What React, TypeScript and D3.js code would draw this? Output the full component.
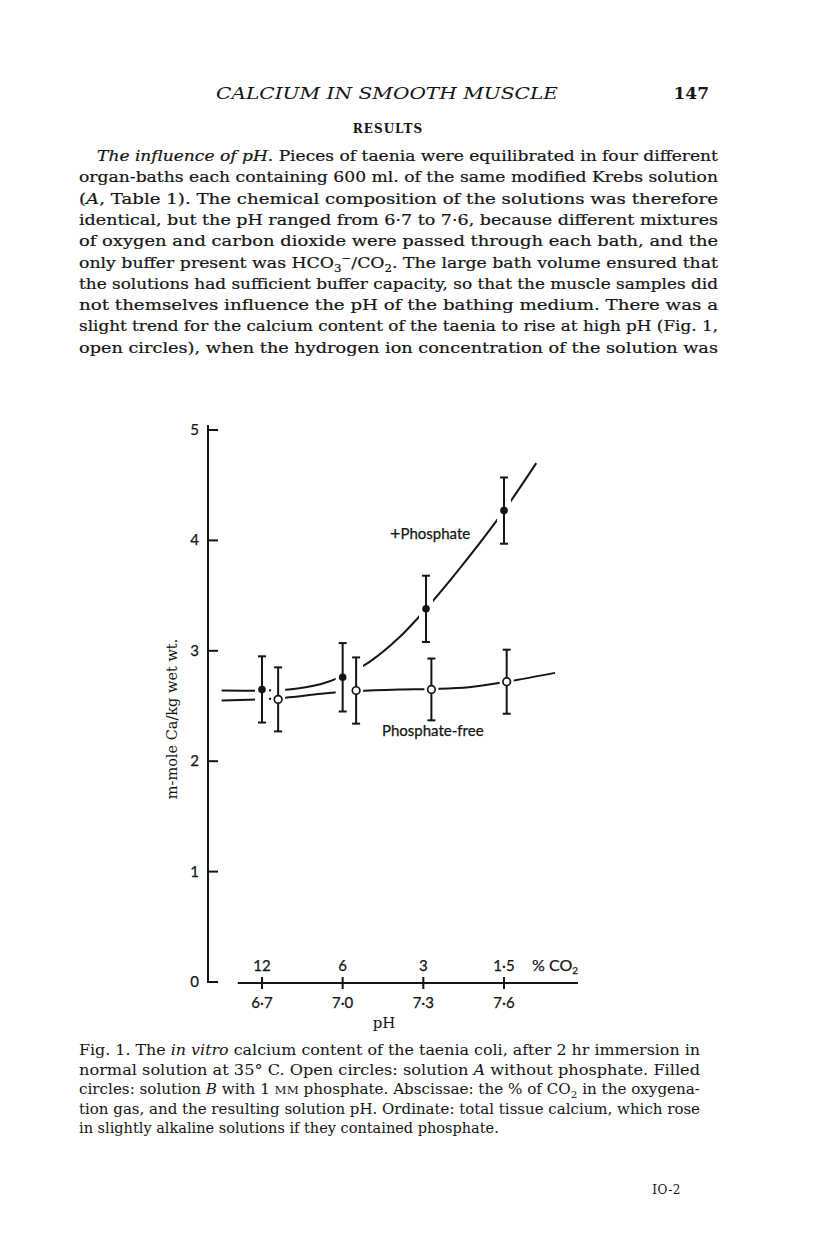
import * as d3 from 'd3';

// pH of the four baths and the % CO2 that produced them
const phTicks = [6.7, 7.0, 7.3, 7.6];
const phLabels = ['6·7', '7·0', '7·3', '7·6'];
const co2Labels = ['12', '6', '3', '1·5'];
const yTicks = [0, 1, 2, 3, 4, 5];

// filled circles: solution B, + phosphate
const phosPh = [6.7, 7.0, 7.31, 7.6];
const phosMean = [2.65, 2.76, 3.38, 4.27];
const phosSem = [0.3, 0.31, 0.3, 0.3];

// open circles: solution A, phosphate-free
const freePh = [6.76, 7.05, 7.33, 7.61];
const freeMean = [2.56, 2.64, 2.65, 2.72];
const freeSem = [0.29, 0.3, 0.28, 0.29];

// hand drawn curves
const phosCurvePh = [6.55, 6.8, 6.92, 7.0, 7.1, 7.21, 7.31, 7.44, 7.6, 7.72];
const phosCurveVal = [2.64, 2.65, 2.7, 2.77, 2.9, 3.12, 3.38, 3.76, 4.27, 4.7];
const freeCurvePh = [6.55, 6.76, 6.92, 7.05, 7.21, 7.33, 7.47, 7.61, 7.79];
const freeCurveVal = [2.55, 2.57, 2.61, 2.635, 2.65, 2.655, 2.67, 2.72, 2.8];

type Part = [string, string?];

const bodyLines: Part[][] = [
  [['The influence of pH', 'i'], ['. Pieces of taenia were equilibrated in four different']],
  [['organ-baths each containing 600 ml. of the same modified Krebs solution']],
  [['('], ['A', 'i'], [', Table 1). The chemical composition of the solutions was therefore']],
  [['identical, but the pH ranged from 6·7 to 7·6, because different mixtures']],
  [['of oxygen and carbon dioxide were passed through each bath, and the']],
  [['only buffer present was HCO'], ['3', 'sub'], ['−', 'sup'], ['/CO'], ['2', 'sub'], ['. The large bath volume ensured that']],
  [['the solutions had sufficient buffer capacity, so that the muscle samples did']],
  [['not themselves influence the pH of the bathing medium. There was a']],
  [['slight trend for the calcium content of the taenia to rise at high pH (Fig. 1,']],
  [['open circles), when the hydrogen ion concentration of the solution was']],
];

const captionLines: Part[][] = [
  [['Fig. 1. The '], ['in vitro', 'i'], [' calcium content of the taenia coli, after 2 hr immersion in']],
  [['normal solution at 35° C. Open circles: solution '], ['A', 'i'], [' without phosphate. Filled']],
  [['circles: solution '], ['B', 'i'], [' with 1 '], ['mm', 'sc'], [' phosphate. Abscissae: the % of CO'], ['2', 'sub'], [' in the oxygena-']],
  [['tion gas, and the resulting solution pH. Ordinate: total tissue calcium, which rose']],
  [['in slightly alkaline solutions if they contained phosphate.']],
];

const serif = '"DejaVu Serif", "Liberation Serif", serif';
const sans = 'Lato, "Open Sans", sans-serif';
const ink = '#141414';

function Parts({ parts, size }: { parts: Part[]; size: number }) {
  let shift = 0;
  return (
    <>
      {parts.map(([t, s], i) => {
        const target = s === 'sub' ? size * 0.28 : s === 'sup' ? -size * 0.38 : 0;
        const dy = target - shift;
        shift = target;
        const small = s === 'sub' || s === 'sup';
        return (
          <tspan
            key={i}
            dy={dy || undefined}
            fontStyle={s === 'i' ? 'italic' : undefined}
            fontSize={small ? size * 0.68 : s === 'sc' ? size * 0.78 : undefined}
            style={s === 'sc' ? { textTransform: 'uppercase' } : undefined}
          >
            {t}
          </tspan>
        );
      })}
    </>
  );
}

export default function App() {
  const x = d3.scaleLinear().domain([6.7, 7.6]).range([262, 504]);
  const y = d3.scaleLinear().domain([0, 5]).range([982, 430]);
  const axisX = 208;

  const line = d3
    .line<[number, number]>()
    .x((d) => x(d[0]))
    .y((d) => y(d[1]))
    .curve(d3.curveCatmullRom.alpha(0.5));

  const phosPath = line(phosCurvePh.map((p, i) => [p, phosCurveVal[i]]));
  const freePath = line(freeCurvePh.map((p, i) => [p, freeCurveVal[i]]));

  const points = [
    ...phosPh.map((p, i) => ({ p, m: phosMean[i], e: phosSem[i], filled: true })),
    ...freePh.map((p, i) => ({ p, m: freeMean[i], e: freeSem[i], filled: false })),
  ];

  const bodyLeft = 79;
  const bodyRight = 718;
  const capLeft = 79;
  const capRight = 700;
  const capSize = 14.5;

  return (
    <svg
      width={816}
      height={1249}
      style={{ position: 'absolute', left: 0, top: 0, background: '#fff' }}
    >
      <rect width={816} height={1249} fill="#fff" />

      {/* running head */}
      <text x={216} y={99} fontFamily={serif} fontStyle="italic" fontSize={17}
        textLength={342} lengthAdjust="spacingAndGlyphs" fill={ink}>
        CALCIUM IN SMOOTH MUSCLE
      </text>
      <text x={709} y={99} fontFamily={serif} fontSize={17} fontWeight="bold"
        textAnchor="end" fill={ink}>
        147
      </text>
      <text x={388} y={133} fontFamily={serif} fontSize={12} fontWeight="bold"
        textAnchor="middle" letterSpacing={1} fill={ink}>
        RESULTS
      </text>

      <g fontFamily={serif} fontSize={15.5} fill={ink} stroke={ink} strokeWidth={0.2}>
        {bodyLines.map((parts, i) => {
          const left = i === 0 ? 97 : bodyLeft;
          return (
            <text key={i} x={left} y={161 + i * 21.3}
              textLength={bodyRight - left} lengthAdjust="spacingAndGlyphs">
              <Parts parts={parts} size={15.5} />
            </text>
          );
        })}
      </g>

      {/* chart */}
      <g fill="none" stroke={ink} strokeWidth={2}>
        <path d={`M${axisX},${y(5) - 5}V${y(0)}H${axisX + 10}`} />
        {yTicks.slice(1).map((t) => (
          <line key={t} x1={axisX} x2={axisX + 10} y1={y(t)} y2={y(t)} />
        ))}
        <line x1={x(6.61)} x2={x(7.875)} y1={y(0) + 1} y2={y(0) + 1} />
        {phTicks.map((t) => (
          <line key={t} x1={x(t)} x2={x(t)} y1={y(0) - 5} y2={y(0) + 7} />
        ))}
        <path d={phosPath ?? ''} />
        <path d={freePath ?? ''} />
      </g>

      {/* breaks in the curves either side of each error bar */}
      {points.map((d, i) => (
        <rect key={i} x={x(d.p) - 7} width={14} y={y(d.m + d.e)}
          height={y(d.m - d.e) - y(d.m + d.e)} fill="#fff" />
      ))}

      {points.map((d, i) => (
        <g key={i} stroke={ink} strokeWidth={2}>
          <line x1={x(d.p)} x2={x(d.p)} y1={y(d.m + d.e)} y2={y(d.m - d.e)} />
          <line x1={x(d.p) - 4} x2={x(d.p) + 4} y1={y(d.m + d.e)} y2={y(d.m + d.e)} />
          <line x1={x(d.p) - 4} x2={x(d.p) + 4} y1={y(d.m - d.e)} y2={y(d.m - d.e)} />
          <circle cx={x(d.p)} cy={y(d.m)} r={d.filled ? 3.8 : 3.8}
            fill={d.filled ? ink : '#fff'} strokeWidth={d.filled ? 0 : 1.7} />
        </g>
      ))}

      <g fontFamily={sans} fontSize={15} fill={ink} stroke={ink} strokeWidth={0.25}>
        {yTicks.map((t) => (
          <text key={t} x={axisX - 9} y={y(t) + 5} textAnchor="end">{t}</text>
        ))}
        {phTicks.map((t, i) => (
          <text key={t} x={x(t)} y={y(0) - 11} textAnchor="middle">{co2Labels[i]}</text>
        ))}
        {phTicks.map((t, i) => (
          <text key={t} x={x(t)} y={y(0) + 26} textAnchor="middle">{phLabels[i]}</text>
        ))}
        <text x={x(7.6) + 28} y={y(0) - 11} fontSize={16}>
          % CO<tspan dy={3} fontSize={10}>2</tspan>
        </text>
        <text x={390} y={539}>
          <tspan fontSize={18} dy={1}>+</tspan><tspan dy={-1}>Phosphate</tspan>
        </text>
        <text x={382} y={736}>Phosphate-free</text>
      </g>

      <text x={384} y={1028} fontFamily={serif} fontSize={15} textAnchor="middle" fill={ink}>
        pH
      </text>
      <text transform="translate(177,719) rotate(-90)" fontFamily={serif} fontSize={14.5}
        textAnchor="middle" fill={ink}>
        m-mole Ca/kg wet wt.
      </text>

      <g fontFamily={serif} fontSize={capSize} fill={ink}>
        {captionLines.map((parts, i) => {
          const last = i === captionLines.length - 1;
          return (
            <text key={i} x={capLeft} y={1055 + i * 19.5}
              textLength={last ? undefined : capRight - capLeft}
              lengthAdjust="spacingAndGlyphs">
              <Parts parts={parts} size={capSize} />
            </text>
          );
        })}
      </g>

      <text x={681} y={1194} fontFamily={serif} fontSize={12} textAnchor="end"
        letterSpacing={0.5} fill={ink}>
        IO-2
      </text>
    </svg>
  );
}
